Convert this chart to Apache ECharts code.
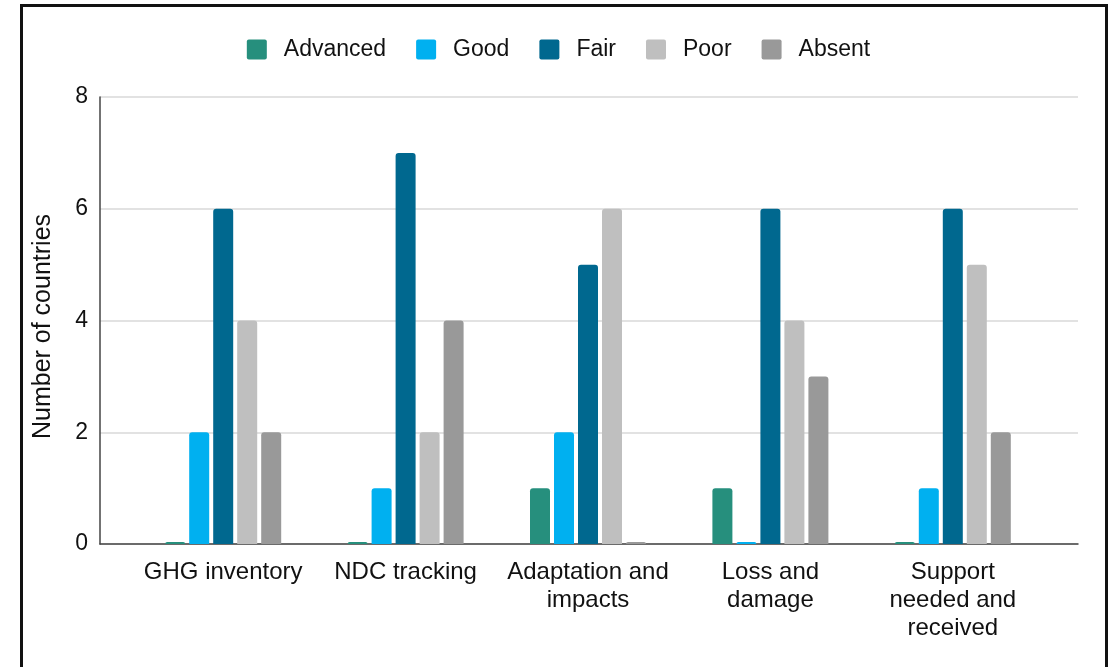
<!DOCTYPE html>
<html>
<head>
<meta charset="utf-8">
<title>Number of countries by reporting quality</title>
<script src="https://cdn.jsdelivr.net/npm/echarts@6/dist/echarts.min.js"></script>
<style>
  html, body { margin: 0; padding: 0; background: #ffffff; }
  #wrap { position: relative; width: 1117px; height: 667px; overflow: hidden; }
  #chart { position: absolute; left: 0; top: 0; width: 1117px; height: 667px; }
  #frame {
    position: absolute; left: 20px; top: 4px; width: 1082px; height: 720px;
    border: 3px solid #111111; pointer-events: none;
  }
</style>
</head>
<body>
<div id="wrap">
  <div id="chart"></div>
  <div id="frame"></div>
</div>
<script>
// Reporting areas along the x axis
const categories = ['GHG inventory', 'NDC tracking', 'Adaptation and\nimpacts', 'Loss and\ndamage', 'Support\nneeded and\nreceived'];

// Number of countries per rating
const advanced = [0, 0, 1, 1, 0];
const good     = [2, 1, 2, 0, 1];
const fair     = [6, 7, 5, 6, 6];
const poor     = [4, 2, 6, 4, 5];
const absent   = [2, 4, 0, 3, 2];

const seriesNames  = ['Advanced', 'Good', 'Fair', 'Poor', 'Absent'];
const seriesColors = ['#268f7d', '#00b0f0', '#00688f', '#bfbfbf', '#999999'];
const seriesData   = [advanced, good, fair, poor, absent];

// Value axis range
const yMin = 0, yMax = 8, yStep = 2;

const FONT = '"Liberation Sans", Arial, sans-serif';
const TEXT = '#111111';

const chart = echarts.init(document.getElementById('chart'), null, { renderer: 'canvas' });

const legendIcon = 'path://M2,0H18Q20,0 20,2V18Q20,20 18,20H2Q0,20 0,18V2Q0,0 2,0Z';

const option = {
  backgroundColor: '#ffffff',
  animation: false,
  textStyle: { fontFamily: FONT },
  legend: {
    data: seriesNames.map(n => ({ name: n, icon: legendIcon })),
    top: 33,
    left: 'center',
    itemWidth: 20,
    itemHeight: 20,
    itemGap: 30,
    textStyle: { fontFamily: FONT, fontSize: 23, color: TEXT, padding: [0, 0, 0, 12] }
  },
  grid: [
    // frame of the plot: gridlines and axis lines
    { left: 100, right: 39, top: 97, bottom: 123 },
    // bars, with the categories inset from the axis ends
    { left: 132, right: 73, top: 97, bottom: 123 }
  ],
  xAxis: [
    {
      gridIndex: 0, type: 'value', min: 0, max: 1,
      axisLine: { show: true, onZero: false, lineStyle: { color: '#444444', width: 1.5 } },
      axisTick: { show: false }, axisLabel: { show: false }, splitLine: { show: false }
    },
    {
      gridIndex: 1, type: 'category', data: categories,
      axisLine: { show: false }, axisTick: { show: false }, splitLine: { show: false },
      axisLabel: {
        interval: 0, margin: 14, fontFamily: FONT, fontSize: 24, lineHeight: 28,
        color: TEXT, align: 'center'
      }
    }
  ],
  yAxis: [
    {
      gridIndex: 0, type: 'value', min: yMin, max: yMax, interval: yStep,
      name: 'Number of countries', nameLocation: 'middle', nameGap: 44,
      nameTextStyle: { fontFamily: FONT, fontSize: 25, color: TEXT, padding: [0, 12, 0, 0] },
      axisLine: { show: true, lineStyle: { color: '#444444', width: 1.5 } },
      axisTick: { show: false },
      axisLabel: { margin: 12, fontFamily: FONT, fontSize: 23, color: TEXT, padding: [6, 0, 0, 0] },
      splitLine: { show: true, lineStyle: { color: '#d9d9d9', width: 1.5 } }
    },
    {
      gridIndex: 1, type: 'value', min: yMin, max: yMax, interval: yStep,
      show: false, splitLine: { show: false }
    }
  ],
  series: seriesNames.map((name, i) => ({
    name: name,
    type: 'bar',
    xAxisIndex: 1,
    yAxisIndex: 1,
    data: seriesData[i],
    barWidth: 20,
    barGap: '20%',
    barMinHeight: 2,
    itemStyle: { color: seriesColors[i], borderRadius: [3, 3, 0, 0] },
    emphasis: { disabled: true }
  }))
};

chart.setOption(option);
</script>
</body>
</html>
